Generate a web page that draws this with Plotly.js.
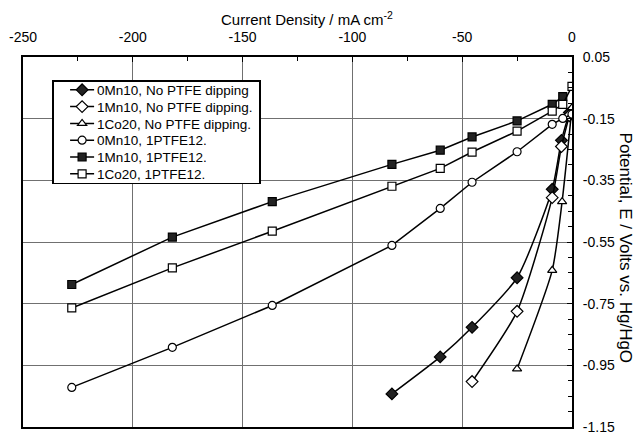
<!DOCTYPE html>
<html><head><meta charset="utf-8">
<script src="https://cdn.plot.ly/plotly-3.0.1.min.js"></script>
<style>body{margin:0;background:#fff}#c{width:639px;height:432px}</style>
</head><body><div id="c"></div>
<script>
const names = ["0Mn10, No PTFE dipping","1Mn10, No PTFE dipping.","1Co20, No PTFE dipping.","0Mn10, 1PTFE12.","1Mn10, 1PTFE12.","1Co20, 1PTFE12."];
const x0Mn10 = [-82,-60,-45.5,-25,-9,-4.8,-1.2];
const y0Mn10 = [-1.043,-0.923,-0.827,-0.666,-0.379,-0.22,-0.13];
const x1Mn10 = [-45.5,-25,-9,-4.8,-1.2];
const y1Mn10 = [-1.003,-0.775,-0.406,-0.24,-0.14];
const x1Co20 = [-25,-9,-4.5,0];
const y1Co20 = [-0.962,-0.642,-0.419,-0.114];
const xP = [-227.8,-182,-136.5,-82,-60,-45.5,-25,-9,-4.2,0];
const y0Mn10P = [-1.022,-0.892,-0.756,-0.561,-0.441,-0.356,-0.257,-0.168,-0.149,-0.135];
const x1Mn10P = [-227.8,-182,-136.5,-82,-60,-45.5,-25,-9,-4.2];
const y1Mn10P = [-0.688,-0.534,-0.419,-0.298,-0.252,-0.209,-0.157,-0.103,-0.078];
const y1Co20P = [-0.764,-0.634,-0.515,-0.369,-0.311,-0.258,-0.190,-0.125,-0.103,-0.045];
const xTickVals = [-250,-200,-150,-100,-50,0];
const xTickText = ["-250","-200","-150","-100","-50","0"];
const yTickVals = [0.05,-0.15,-0.35,-0.55,-0.75,-0.95,-1.15];
const yTickText = ["0.05","-0.15","-0.35","-0.55","-0.75","-0.95","-1.15"];

function tr(name,x,y,sym,filled,spline){
  return {type:'scatter',mode:'lines+markers',name:name,x:x,y:y,
    line:{color:'#000',width:1.5,shape:spline?'spline':'linear',smoothing:0.6},
    marker:{symbol:sym,size:sym==='diamond'?9:8,color:filled?'#222':'#fff',line:{color:'#000',width:1.2}}};
}
const data = [
  tr(names[0],x0Mn10,y0Mn10,'diamond',true,true),
  tr(names[1],x1Mn10,y1Mn10,'diamond',false,true),
  tr(names[2],x1Co20,y1Co20,'triangle-up',false,true),
  tr(names[3],xP,y0Mn10P,'circle',false,false),
  tr(names[4],x1Mn10P,y1Mn10P,'square',true,false),
  tr(names[5],xP,y1Co20P,'square',false,false)
];
const FAM = 'Liberation Sans, Arial, sans-serif';
const tickfont = {family:FAM,size:14,color:'#000'};
const layout = {
  width:639,height:432,margin:{l:23,r:67,t:57,b:5},
  paper_bgcolor:'#fff',plot_bgcolor:'#fff',showlegend:true,font:{family:FAM,size:13,color:'#000'},
  xaxis:{range:[-250.01,0.01],side:'top',tickvals:xTickVals,ticktext:xTickText,ticks:'inside',ticklen:5,tickcolor:'#000',
    ticklabelstandoff:7,ticklabeloverflow:'allow',
    showline:true,mirror:true,linecolor:'#000',linewidth:2,showgrid:true,gridcolor:'#707070',gridwidth:1,zeroline:false,
    minor:{tick0:0,dtick:25,ticks:'inside',ticklen:4,tickcolor:'#000',showgrid:false},tickfont:tickfont},
  yaxis:{range:[-1.1505,0.0505],side:'right',tickvals:yTickVals,ticktext:yTickText,ticks:'inside',ticklen:5,tickcolor:'#000',
    ticklabelstandoff:6,ticklabeloverflow:'allow',
    showline:true,mirror:true,linecolor:'#000',linewidth:2,showgrid:true,gridcolor:'#707070',gridwidth:1,zeroline:false,
    minor:{tick0:0.05,dtick:0.05,ticks:'inside',ticklen:4,tickcolor:'#000',showgrid:false},tickfont:tickfont},
  legend:{x:0.053,y:0.937,xanchor:'left',yanchor:'top',bgcolor:'#fff',bordercolor:'#000',borderwidth:1.5,
    font:{family:FAM,size:13.5,color:'#000'},tracegroupgap:0,itemwidth:30},
  annotations:[
    {text:'Current Density / mA cm<sup>-2</sup>',xref:'paper',yref:'paper',x:0.518,y:1,yshift:39,xanchor:'center',yanchor:'middle',showarrow:false,font:{family:FAM,size:15,color:'#000'}},
    {text:'Potential, E / Volts vs. Hg/HgO',xref:'paper',yref:'paper',x:1,xshift:53,y:0.485,textangle:90,xanchor:'center',yanchor:'middle',showarrow:false,font:{family:FAM,size:17,color:'#000'}}
  ]
};
Plotly.newPlot('c',data,layout,{staticPlot:true}).then(function(gd){
  // tighten legend rows to the reference spacing
  const leg = gd.querySelector('g.legend');
  if(!leg) return;
  const items = leg.querySelectorAll('g.traces');
  const step = 16.8, top = 9.5;
  items.forEach(function(g,i){
    g.setAttribute('transform','translate(0,'+(top+i*step)+')');
    g.querySelectorAll('g.legendlines path').forEach(function(p){ p.setAttribute('d','M18,0h24'); });
    g.querySelectorAll('g.legendpoints path.scatterpts').forEach(function(p){ p.setAttribute('transform','translate(30,0)'); });
    g.querySelectorAll('text.legendtext').forEach(function(t){ t.setAttribute('x','45'); });
  });
  const bg = leg.querySelector('rect.bg');
  if(bg){ bg.setAttribute('height', String(top+5*step+9)); bg.setAttribute('width','207'); }
});
</script></body></html>
